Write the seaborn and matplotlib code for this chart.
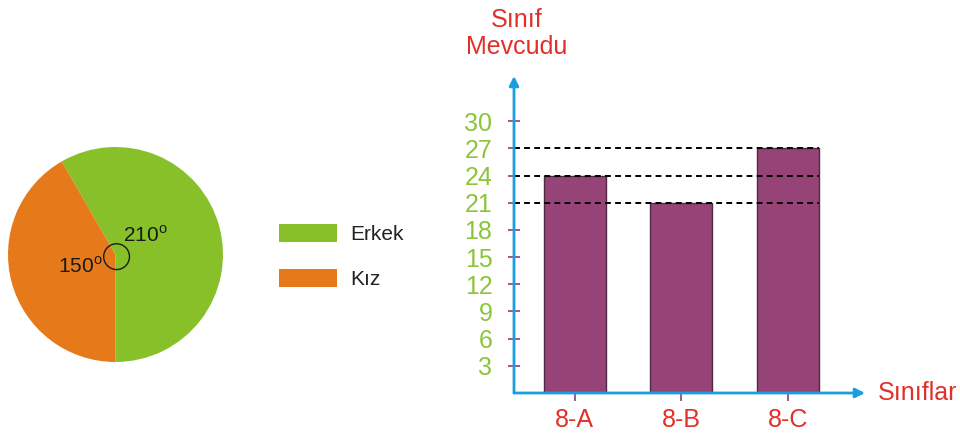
"""
Pie of boys/girls and bar chart of class sizes.
"""
import seaborn as sns
import matplotlib.pyplot as plt
from matplotlib.patches import Circle

# Pie data (degrees).
genders = ["Erkek", "Kız"]
angles = [210, 150]
angle_labels = ["210", "150"]

# Bar data.
classes = ["8-A", "8-B", "8-C"]
counts = [24, 21, 27]
y_ticks = [3, 6, 9, 12, 15, 18, 21, 24, 27, 30]

GREEN = "#88c02a"
ORANGE = "#e67a1b"
BAR = "#964477"
PURPLE = "#9b4a87"
BLUE = "#1a9ee0"
RED = "#e0302a"
TEXT_GREEN = "#8cc43c"

W, H = 960, 437


def px_box(left, top, right, bottom):
    # Pixel box -> figure fraction [left, bottom, width, height].
    return [left / W, 1 - bottom / H, (right - left) / W, (bottom - top) / H]


def draw_pie(fig):
    ax = fig.add_axes(px_box(8, 147, 223, 362))
    wedges, _ = ax.pie(angles, colors=[GREEN, ORANGE], startangle=270,
                       counterclock=True, radius=1,
                       wedgeprops=dict(linewidth=0, edgecolor="none"))
    ax.set_xlim(-1, 1)
    ax.set_ylim(-1, 1)
    ax.set_aspect("equal")

    # Angle labels and the small arc at the centre.
    ax.text(0.28, 0.18, angle_labels[0] + r"$^{\mathrm{o}}$", fontsize=15,
            ha="center", va="center", color="#1a1a1a")
    ax.text(-0.33, -0.11, angle_labels[1] + r"$^{\mathrm{o}}$", fontsize=15,
            ha="center", va="center", color="#1a1a1a")
    ax.add_patch(Circle((0.01, -0.02), 0.12, fill=False, ec="#1a1a1a", lw=1))

    # Legend next to the pie.
    fig.legend(wedges, genders, loc="upper left",
               bbox_to_anchor=(279 / W, 1 - 224 / H), frameon=False,
               fontsize=15, handlelength=2.8, handleheight=0.95,
               handletextpad=0.6, labelspacing=1.2, borderpad=0,
               borderaxespad=0, labelcolor="#222222")


def draw_bars(fig):
    ax = fig.add_axes(px_box(514, 76, 865, 393))
    sns.barplot(x=classes, y=counts, ax=ax, color=BAR, saturation=1,
                width=0.58, edgecolor="#4d2a42", linewidth=1, zorder=2)
    ax.set_xlim(-0.567, 2.72)
    ax.set_ylim(0, 35)

    # Dashed guide lines from the axis to the bar tops.
    ax.hlines(counts, -0.567, 2.29, colors="black", linestyles=(0, (3, 2.2)),
              lw=1.4, zorder=3)

    for s in ax.spines.values():
        s.set_visible(False)

    # Arrowed axes.
    arrow = dict(arrowstyle="-|>", color=BLUE, lw=2, mutation_scale=14,
                 shrinkA=0, shrinkB=0)
    ax.annotate("", xy=(0, 1), xytext=(0, 0), xycoords="axes fraction",
                arrowprops=arrow)
    ax.annotate("", xy=(1, 0), xytext=(0, 0), xycoords="axes fraction",
                arrowprops=arrow)

    ax.set_yticks(y_ticks)
    ax.set_yticklabels([str(t) for t in y_ticks])
    ax.tick_params(axis="y", left=True, direction="inout", length=9,
                   width=1.3, color=PURPLE, pad=11, labelsize=18,
                   labelcolor=TEXT_GREEN)
    ax.tick_params(axis="x", bottom=True, direction="out", length=6,
                   width=1.3, color=PURPLE, pad=5, labelsize=18,
                   labelcolor=RED)
    ax.set_xlabel("")
    ax.set_ylabel("")

    ax.text(1.037, 0.0, "Sınıflar", transform=ax.transAxes, fontsize=18,
            color=RED, ha="left", va="center")
    fig.text(517 / W, 1 - 20 / H, "Sınıf", fontsize=18, color=RED,
             ha="center", va="center")
    fig.text(517 / W, 1 - 47 / H, "Mevcudu", fontsize=18, color=RED,
             ha="center", va="center")


if __name__ == "__main__":
    sns.set_theme(style="white")
    plt.rcParams["font.family"] = ["Liberation Sans", "DejaVu Sans"]
    plt.rcParams["mathtext.fontset"] = "custom"
    plt.rcParams["mathtext.rm"] = "Liberation Sans"

    fig = plt.figure(figsize=(9.6, 4.37), dpi=100)
    draw_pie(fig)
    draw_bars(fig)
    plt.savefig("out.png", dpi=100)
